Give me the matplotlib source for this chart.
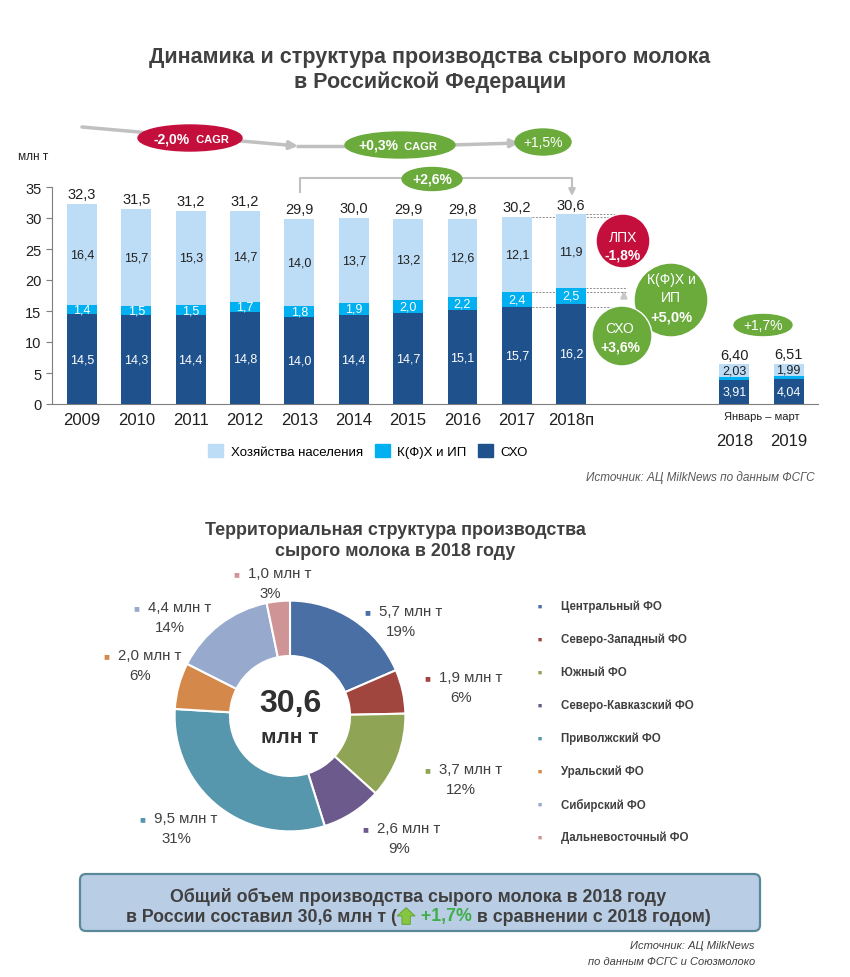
import matplotlib
matplotlib.use("Agg")
import matplotlib.pyplot as plt
import numpy as np
from matplotlib.patches import Ellipse, Circle, FancyBboxPatch, Polygon, Patch
from matplotlib.offsetbox import TextArea, DrawingArea, HPacker, AnnotationBbox

plt.rcParams['font.family'] = ['Liberation Sans', 'DejaVu Sans']

# ---- data: bar chart (млн т)
years = ['2009', '2010', '2011', '2012', '2013', '2014', '2015', '2016', '2017', '2018п']
sho = [14.5, 14.3, 14.4, 14.8, 14.0, 14.4, 14.7, 15.1, 15.7, 16.2]
kfh = [1.4, 1.5, 1.5, 1.7, 1.8, 1.9, 2.0, 2.2, 2.4, 2.5]
hh = [16.4, 15.7, 15.3, 14.7, 14.0, 13.7, 13.2, 12.6, 12.1, 11.9]
totals = [32.3, 31.5, 31.2, 31.2, 29.9, 30.0, 29.9, 29.8, 30.2, 30.6]

q1_years = ['2018', '2019']
q1_sho = [3.91, 4.04]
q1_hh = [2.03, 1.99]
q1_total = [6.40, 6.51]

# ---- data: regions 2018
regions = ['Центральный ФО', 'Северо-Западный ФО', 'Южный ФО', 'Северо-Кавказский ФО',
           'Приволжский ФО', 'Уральский ФО', 'Сибирский ФО', 'Дальневосточный ФО']
region_vol = [5.7, 1.9, 3.7, 2.6, 9.5, 2.0, 4.4, 1.0]
region_pct = [19, 6, 12, 9, 31, 6, 14, 3]
region_colors = ['#4a6fa5', '#a0463f', '#8fa555', '#6c5a8d', '#5797ae', '#d4884a', '#97aacd', '#cf9495']

C_HH = '#bddcf6'
C_KFH = '#00b0f0'
C_SHO = '#1f528c'
TXT = '#404040'
GREEN = '#6aab3c'
RED = '#c40f3c'
GREY = '#c0c0c0'

def fmt(v, nd=1):
    return f"{v:.{nd}f}".replace('.', ',')

fig = plt.figure(figsize=(8.5, 9.78), dpi=100)

# ---------------- bar chart
ax = fig.add_axes([52/850, 1-405/978, 766/850, 217/978])
x = np.arange(len(years))
xq = len(years) + 2 + np.arange(len(q1_years))
w = 0.55
sho_a, kfh_a, hh_a = np.array(sho), np.array(kfh), np.array(hh)
ax.bar(x, sho_a, w, color=C_SHO, zorder=3)
ax.bar(x, kfh_a, w, bottom=sho_a, color=C_KFH, zorder=3)
ax.bar(x, hh_a, w, bottom=sho_a + kfh_a, color=C_HH, zorder=3)

q1_kfh = np.array(q1_total) - np.array(q1_sho) - np.array(q1_hh)
ax.bar(xq, q1_sho, w, color=C_SHO, zorder=3)
ax.bar(xq, q1_kfh, w, bottom=q1_sho, color=C_KFH, zorder=3)
ax.bar(xq, q1_hh, w, bottom=np.array(q1_sho) + q1_kfh, color=C_HH, zorder=3)

for i in range(len(years)):
    ax.text(x[i], sho[i]/2, fmt(sho[i]), ha='center', va='center', color='white', fontsize=9, zorder=4)
    ax.text(x[i], sho[i] + kfh[i]/2, fmt(kfh[i]), ha='center', va='center', color='white', fontsize=9, zorder=4)
    ax.text(x[i], sho[i] + kfh[i] + hh[i]/2, fmt(hh[i]), ha='center', va='center', color='#202020', fontsize=9, zorder=4)
    ax.annotate(fmt(totals[i]), (x[i], totals[i]), xytext=(0, 2), textcoords='offset points',
                ha='center', va='bottom', fontsize=10.5, color='#202020')
for i in range(len(q1_years)):
    ax.text(xq[i], q1_sho[i]/2, fmt(q1_sho[i], 2), ha='center', va='center', color='white', fontsize=9, zorder=4)
    ax.text(xq[i], q1_sho[i] + q1_kfh[i] + q1_hh[i]/2, fmt(q1_hh[i], 2), ha='center', va='center',
            color='#202020', fontsize=9, zorder=4)
    ax.annotate(fmt(q1_total[i], 2), (xq[i], q1_total[i]), xytext=(0, 2), textcoords='offset points',
                ha='center', va='bottom', fontsize=10.5, color='#202020')
    ax.annotate(q1_years[i], (xq[i], 0), xycoords=('data', 'axes fraction'), xytext=(0, -37),
                textcoords='offset pixels', ha='center', va='center', fontsize=12, color='#202020')
ax.annotate('Январь – март', (xq.mean(), 0), xycoords=('data', 'axes fraction'), xytext=(0, -12),
            textcoords='offset pixels', ha='center', va='center', fontsize=8, color='#202020')

# dashed guide lines to the right of the 2017 / 2018 bars
xr = x[-1] + 1.02
for xi, lev in [(x[-2], totals[-2]), (x[-1], totals[-1]), (x[-1], sho[-1] + kfh[-1]),
                (x[-2], sho[-2] + kfh[-2]), (x[-2], sho[-2])]:
    ax.plot([xi + w/2, xr], [lev, lev], ls=(0, (2, 1.5)), color='#8c8c8c', lw=0.7, zorder=2, clip_on=False)
for lo, hi in [(totals[-2], totals[-1]), (sho[-2] + kfh[-2], sho[-1] + kfh[-1]), (sho[-2], sho[-1])]:
    ax.annotate('', (xr - 0.05, hi), xytext=(xr - 0.05, lo - 1.2),
                arrowprops=dict(arrowstyle='-|>', color='#c8c8c8', lw=2, mutation_scale=8), zorder=5)

ax.set_xlim(-0.55, xq[-1] + 0.54)
ax.set_ylim(0, 35)
ax.set_yticks(range(0, 36, 5))
ax.set_xticks(x)
ax.set_xticklabels(years, fontsize=12, color='#202020')
ax.tick_params(axis='x', length=0, pad=6)
ax.tick_params(axis='y', labelsize=10.5, labelcolor='#202020', color='#7f7f7f', length=4, width=0.8)
for s in ['top', 'right']:
    ax.spines[s].set_visible(False)
ax.spines['left'].set_color('#7f7f7f')
ax.spines['bottom'].set_color('#7f7f7f')
ax.set_facecolor('none')

fig.text(18/850, 1-157/978, 'млн т', fontsize=8.5, color='#202020', va='center')

handles = [Patch(color=C_HH), Patch(color=C_KFH), Patch(color=C_SHO)]
fig.legend(handles, ['Хозяйства населения', 'К(Ф)Х и ИП', 'СХО'], loc='center',
           bbox_to_anchor=(368/850, 1-452/978), ncol=3, frameon=False, fontsize=9.5,
           handlelength=1.15, handleheight=1.15, columnspacing=0.9, handletextpad=0.55)

fig.text(815/850, 1-478/978, 'Источник: АЦ MilkNews по данным ФСГС', ha='right', va='center',
         style='italic', fontsize=8.5, color='#595959')

fig.text(430/850, 1-58/978, 'Динамика и структура производства сырого молока', ha='center', va='center',
         fontsize=15.5, fontweight='bold', color=TXT)
fig.text(430/850, 1-82/978, 'в Российской Федерации', ha='center', va='center',
         fontsize=15.5, fontweight='bold', color=TXT)

# ---------------- donut chart
pax = fig.add_axes([170/850, 1-837/978, 240/850, 240/978])
pax.pie(region_vol, colors=region_colors, startangle=90, counterclock=False, radius=1,
        wedgeprops=dict(width=0.48, edgecolor='white', linewidth=1.5))
pax.set_xlim(-1.04, 1.04)
pax.set_ylim(-1.04, 1.04)
pax.text(0, 0.11, '30,6', ha='center', va='center', fontsize=23, fontweight='bold', color='#303030')
pax.text(0, -0.18, 'млн т', ha='center', va='center', fontsize=15, fontweight='bold', color='#303030')

fig.text(395/850, 1-531/978, 'Территориальная структура производства', ha='center', va='center',
         fontsize=12.9, fontweight='bold', color=TXT)
fig.text(395/850, 1-552/978, 'сырого молока в 2018 году', ha='center', va='center',
         fontsize=12.9, fontweight='bold', color=TXT)

# ---------------- overlay in pixel coordinates for decorations
ov = fig.add_axes([0, 0, 1, 1])
ov.set_xlim(0, 850)
ov.set_ylim(978, 0)
ov.axis('off')

# donut labels (block centres)
label_pos = [(401, 622), (461, 688), (461, 780), (399, 839), (176, 829), (140, 666), (170, 618), (270, 584)]
for (cx, cy), v, p, c in zip(label_pos, region_vol, region_pct, region_colors):
    t = ov.text(cx + 10, cy - 10, f"{fmt(v)} млн т", ha='center', va='center', fontsize=10.8, color=TXT)
    ov.annotate('■', (0, 0.5), xycoords=t, xytext=(-12, 0), textcoords='offset pixels',
                ha='center', va='center', fontsize=7, color=c)
    ov.text(cx, cy + 10, f"{p}%", ha='center', va='center', fontsize=10.8, color=TXT)

for i, (r, c) in enumerate(zip(regions, region_colors)):
    yy = 607 + 33 * i
    ov.text(540, yy, '■', ha='center', va='center', fontsize=5, color=c)
    ov.text(561, yy, r, ha='left', va='center', fontsize=8.3, fontweight='bold', color=TXT)

# CAGR arrows above the bars
ov.annotate('', (298, 147), xytext=(82, 128),
            arrowprops=dict(arrowstyle='-|>', color=GREY, lw=2.5, mutation_scale=12, shrinkA=0, shrinkB=0))
ov.plot([296, 350], [147, 147], color=GREY, lw=2.5, solid_capstyle='butt')
ov.annotate('', (519, 144), xytext=(450, 146),
            arrowprops=dict(arrowstyle='-|>', color=GREY, lw=2.5, mutation_scale=12, shrinkA=0, shrinkB=0))
ov.add_patch(Ellipse((190, 139), 104, 26, color=RED, zorder=3))
ov.text(190, 139, '-2,0%', ha='right', va='center', fontsize=10, fontweight='bold', color='white', zorder=4)
ov.text(193, 140, ' CAGR', ha='left', va='center', fontsize=8, fontweight='bold', color='white', zorder=4)
ov.add_patch(Ellipse((400, 146), 110, 26, color=GREEN, zorder=3))
ov.text(398, 146, '+0,3%', ha='right', va='center', fontsize=10, fontweight='bold', color='white', zorder=4)
ov.text(401, 147, ' CAGR', ha='left', va='center', fontsize=8, fontweight='bold', color='white', zorder=4)
ov.add_patch(Ellipse((543, 143), 56, 26, color=GREEN, zorder=3))
ov.text(543, 143, '+1,5%', ha='center', va='center', fontsize=10, color='white', zorder=4)

# bracket 2013 -> 2018п
ov.plot([300, 300, 572, 572], [193, 179, 179, 188], color=GREY, lw=1.5)
ov.annotate('', (572, 197), xytext=(572, 186),
            arrowprops=dict(arrowstyle='-|>', color=GREY, lw=1.5, mutation_scale=10, shrinkA=0, shrinkB=0))
ov.add_patch(Ellipse((432, 180), 60, 23, color=GREEN, zorder=3))
ov.text(432, 180, '+2,6%', ha='center', va='center', fontsize=10, fontweight='bold', color='white', zorder=4)

# change circles
ov.add_patch(Circle((623, 242), 27, facecolor=RED, edgecolor='white', lw=1, zorder=3))
ov.text(623, 238, 'ЛПХ', ha='center', va='center', fontsize=10, color='white', zorder=4)
ov.text(623, 256, '-1,8%', ha='center', va='center', fontsize=10, fontweight='bold', color='white', zorder=4)
ov.add_patch(Circle((671, 301), 37, facecolor=GREEN, edgecolor='white', lw=1, zorder=3))
ov.text(671, 280, 'К(Ф)Х и', ha='center', va='center', fontsize=10, color='white', zorder=4)
ov.text(671, 298, 'ИП', ha='center', va='center', fontsize=10, color='white', zorder=4)
ov.text(671, 317, '+5,0%', ha='center', va='center', fontsize=10.5, fontweight='bold', color='white', zorder=4)
ov.add_patch(Circle((622, 337), 30, facecolor=GREEN, edgecolor='white', lw=1, zorder=5))
ov.text(620, 329, 'СХО', ha='center', va='center', fontsize=10, color='white', zorder=6)
ov.text(620, 347, '+3,6%', ha='center', va='center', fontsize=10, fontweight='bold', color='white', zorder=6)
ov.add_patch(Ellipse((763, 326), 58, 21, color=GREEN, zorder=3))
ov.text(763, 326, '+1,7%', ha='center', va='center', fontsize=10, color='white', zorder=4)

# summary box
ov.add_patch(FancyBboxPatch((80, 875), 680, 57, boxstyle='round,pad=0,rounding_size=6',
                            facecolor='#b9cde5', edgecolor='#5a8a98', lw=1.6))
ov.text(418, 897, 'Общий объем производства сырого молока в 2018 году', ha='center', va='center',
        fontsize=12.8, fontweight='bold', color=TXT)
tp = dict(fontsize=12.8, fontweight='bold', color=TXT)
arrow_da = DrawingArea(14, 12, 0, 0)
arrow_da.add_artist(Polygon([(4, 0), (10, 0), (10, 6), (13.5, 6), (7, 12), (0.5, 6), (4, 6)],
                            closed=True, facecolor='#86c540', edgecolor='#5c9e2e', lw=0.6))
line2 = HPacker(children=[TextArea('в России составил 30,6 млн т (', textprops=tp), arrow_da,
                          TextArea(' +1,7%', textprops=dict(tp, color='#3fae49')),
                          TextArea(' в сравнении с 2018 годом)', textprops=tp)],
                align='center', pad=0, sep=0)
ov.add_artist(AnnotationBbox(line2, (418, 917), xycoords='data', frameon=False, box_alignment=(0.5, 0.5), pad=0))

ov.text(755, 946, 'Источник: АЦ MilkNews', ha='right', va='center', style='italic', fontsize=8, color='#404040')
ov.text(755, 962, 'по данным ФСГС и Союзмолоко', ha='right', va='center', style='italic', fontsize=8, color='#404040')

fig.savefig('out.png', dpi=100)
